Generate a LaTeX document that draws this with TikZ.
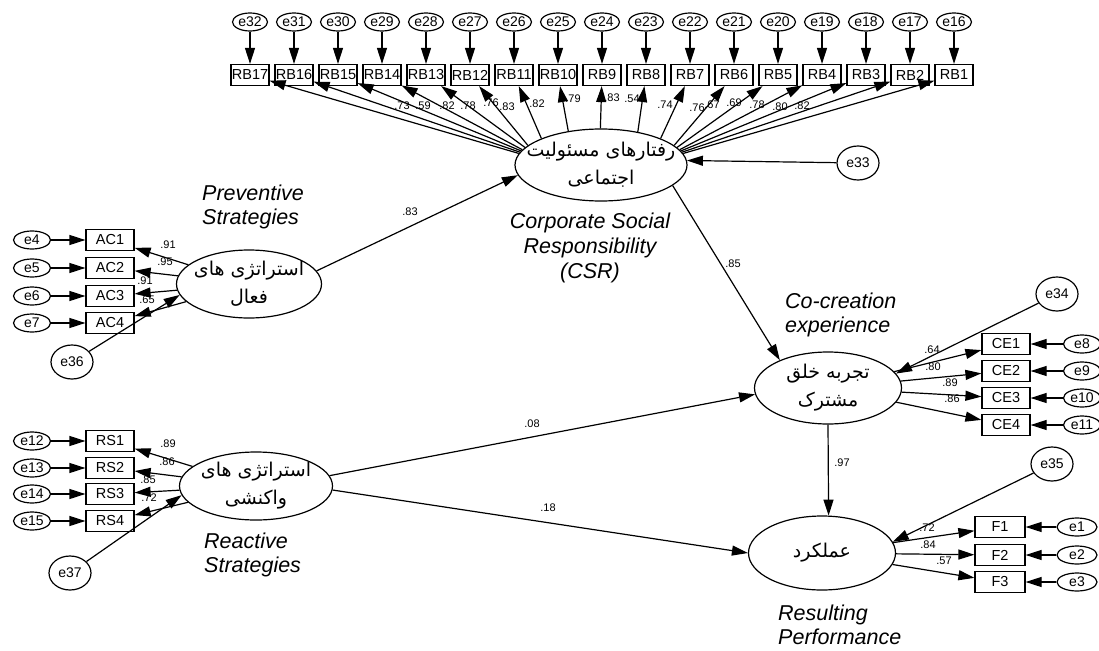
\documentclass[tikz,border=0pt]{standalone}
\usepackage{fontspec}
\setmainfont{Liberation Sans}
\newfontfamily\persianfont[Script=Arabic]{DejaVu Sans}
\TeXXeTstate=1
\usetikzlibrary{shapes.geometric,arrows.meta}

\tikzset{
  item/.style={draw, line width=1.2pt, minimum width=48pt, minimum height=21pt, inner sep=0pt, font=\fontsize{14.5}{14.5}\selectfont},
  err/.style={draw, ellipse, line width=1.2pt, minimum width=37pt, minimum height=18pt, inner sep=0pt, font=\fontsize{14}{14}\selectfont},
  bigerr/.style={err, minimum width=42pt, minimum height=34pt},
  factor/.style={draw, ellipse, line width=1.2pt, inner sep=0pt},
  factortext/.style={align=center, inner sep=0pt, font=\fontsize{19}{28}\persianfont},
  arr/.style={line width=1.2pt, -{Triangle[length=16pt,width=10pt]}},
  load/.style={inner sep=0pt, font=\fontsize{11}{11}\selectfont},
  caption/.style={inner sep=0pt, align=left, font=\fontsize{21.5}{24}\selectfont\itshape},
}

\begin{document}
\begin{tikzpicture}[x=1pt,y=-1pt]
  \useasboundingbox (0,0) rectangle (1099,650);

  % CSR
  \node[factor, minimum width=172pt, minimum height=72pt] (csr) at (601,165) {};
  \node[factortext] (csrText) at (csr) {\beginR رفتارهای مسئولیت\endR\\\beginR اجتماعی\endR};
  \node[caption, align=center, anchor=north, font=\fontsize{21.5}{25}\selectfont\itshape] (csrCaption) at (590,213) {Corporate Social\\Responsibility\\(CSR)};
  \node[bigerr] (e33) at (858,163) {e33};
  \draw[arr] (e33) -- (csr.3);

  % RB items
  \foreach \i/\a in {1/8, 2/9, 3/10, 4/11, 5/13, 6/15, 7/24, 8/42, 9/91, 10/134,
      11/156, 12/165, 13/167, 14/169, 15/170, 16/171, 17/172}{
    \pgfmathsetmacro{\xx}{954-44*(\i-1)}
    \pgfmathtruncatemacro{\ee}{15+\i}
    \node[item, minimum width=38pt] (rb\i) at (\xx,75) {RB\i};
    \node[err, minimum width=35pt] (e\ee) at (\xx,22) {e\ee};
    \draw[arr] (e\ee) -- (rb\i);
    \draw[arr] (csr.\a) -- (rb\i);
  }
  \foreach \i/\v/\lx/\ly in {17/.73/402/106, 16/.59/423/106, 15/.82/447/106, 14/.78/468/106,
      13/.76/491/103, 12/.83/507/107, 11/.82/537/104, 10/.79/573/99, 9/.83/612/98, 8/.54/632/99,
      7/.74/665/105, 6/.76/697/108, 5/.67/712/105, 4/.69/734/103, 3/.78/757/105, 2/.80/780/107, 1/.82/802/106}
    \node[load] (lrb\i) at (\lx,\ly) {\v};

  % Preventive
  \node[factor, minimum width=145pt, minimum height=68pt] (prev) at (249,284) {};
  \node[factortext] (prevText) at (prev) {\beginR استراتژی های\endR\\\beginR فعال\endR};
  \node[caption, anchor=north west] (prevCaption) at (202,185) {Preventive\\Strategies};
  \foreach \i/\y/\v/\lx/\ly in {1/240/.91/168/245, 2/268/.95/165/262, 3/296/.91/145/281, 4/323/.65/147/300}{
    \pgfmathtruncatemacro{\ee}{3+\i}
    \node[item] (ac\i) at (110,\y) {AC\i};
    \node[err] (e\ee) at (32,\y) {e\ee};
    \draw[arr] (e\ee) -- (ac\i);
    \draw[arr] (prev) -- (ac\i);
    \node[load] (lac\i) at (\lx,\ly) {\v};
  }
  \node[bigerr] (e36) at (72,362) {e36};
  \draw[arr] (e36) -- (prev.189);

  % Reactive
  \node[factor, minimum width=153pt, minimum height=68pt] (react) at (256,486) {};
  \node[factortext] (reactText) at (react) {\beginR استراتژی های\endR\\\beginR واکنشی\endR};
  \node[caption, anchor=north west] (reactCaption) at (204,533) {Reactive\\Strategies};
  \foreach \i/\y/\v/\lx/\ly in {1/441/.89/168/444, 2/468/.86/167/462, 3/494/.85/148/480, 4/521/.72/149/498}{
    \pgfmathtruncatemacro{\ee}{11+\i}
    \node[item] (rs\i) at (110,\y) {RS\i};
    \node[err] (e\ee) at (32,\y) {e\ee};
    \draw[arr] (e\ee) -- (rs\i);
    \draw[arr] (react) -- (rs\i);
    \node[load] (lrs\i) at (\lx,\ly) {\v};
  }
  \node[bigerr] (e37) at (70,573) {e37};
  \draw[arr] (e37) -- (react.187);

  % Co-creation
  \node[factor, minimum width=147pt, minimum height=72pt] (cocreation) at (828,388) {};
  \node[factortext] (cocreationText) at (cocreation) {\beginR تجربه خلق\endR\\\beginR مشترک\endR};
  \node[caption, anchor=north west] (cocreationCaption) at (785,293) {Co-creation\\experience};
  \foreach \i/\y/\v/\lx/\ly in {1/344/.64/932/350, 2/371/.80/933/367, 3/398/.89/950/383, 4/425/.86/952/399}{
    \pgfmathtruncatemacro{\ee}{7+\i}
    \node[item] (ce\i) at (1006,\y) {CE\i};
    \node[err] (e\ee) at (1082,\y) {e\ee};
    \draw[arr] (e\ee) -- (ce\i);
    \draw[arr] (cocreation) -- (ce\i);
    \node[load] (lce\i) at (\lx,\ly) {\v};
  }
  \node[bigerr] (e34) at (1057,294) {e34};
  \draw[arr] (e34) -- (cocreation.12);

  % Performance
  \node[factor, minimum width=147pt, minimum height=74pt] (perf) at (822,553) {};
  \node[factortext] (perfText) at (perf) {\beginR عملکرد\endR};
  \node[caption, anchor=north west] (perfCaption) at (778,605) {Resulting\\Performance};
  \foreach \i/\y/\v/\lx/\ly in {1/527/.72/927/528, 2/555/.84/928/545, 3/582/.57/944/561}{
    \node[item, minimum width=50pt] (f\i) at (1000,\y) {F\i};
    \node[err, minimum width=40pt] (e\i) at (1077,\y) {e\i};
    \draw[arr] (e\i) -- (f\i);
    \draw[arr] (perf) -- (f\i);
    \node[load] (lf\i) at (\lx,\ly) {\v};
  }
  \node[bigerr] (e35) at (1052,464) {e35};
  \draw[arr] (e35) -- (perf.9);

  % Structural paths
  \draw[arr] (prev.11) -- (csr.187);
  \draw[arr] (csr.-16) -- (cocreation.150);
  \draw[arr] (react.8) -- (cocreation.185);
  \draw[arr] (react.-3) -- (perf.180);
  \draw[arr] (cocreation.south) -- (perf.80);
  \node[load] (lPrevCsr) at (410,212) {.83};
  \node[load] (lCsrCo) at (733,264) {.85};
  \node[load] (lReactCo) at (532,424) {.08};
  \node[load] (lReactPerf) at (548,508) {.18};
  \node[load] (lCoPerf) at (842,463) {.97};
\end{tikzpicture}
\end{document}
